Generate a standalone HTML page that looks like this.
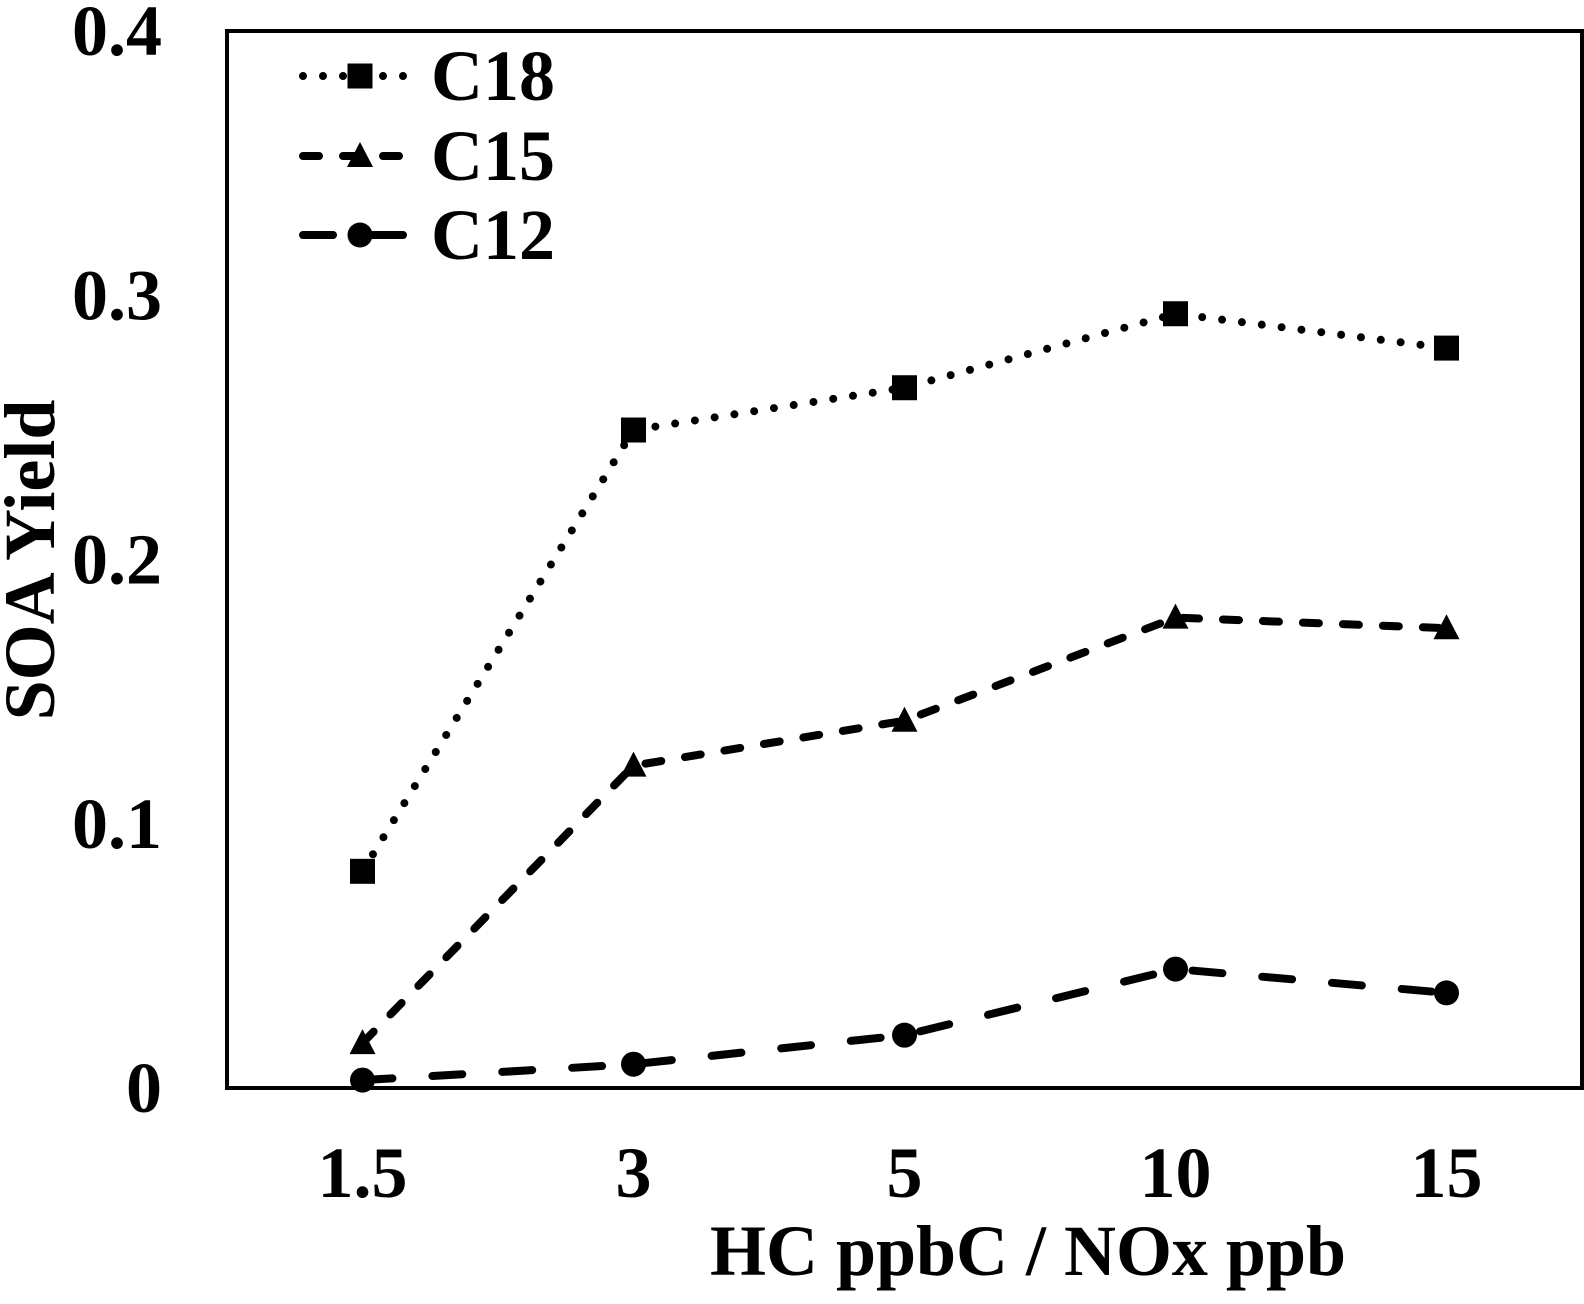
<!DOCTYPE html>
<html><head><meta charset="utf-8"><style>
html,body{margin:0;padding:0;background:#fff;}
svg{display:block;}
text{font-family:"Liberation Serif",serif;font-weight:bold;fill:#000;}
</style></head><body>
<svg id="chart" width="1584" height="1304" viewBox="0 0 1584 1304" xmlns="http://www.w3.org/2000/svg">
<rect x="227" y="31" width="1355" height="1057" fill="none" stroke="#000" stroke-width="4"/>
<g id="yticks"></g>
<g id="xticks"></g>
<g id="series"></g>
<text transform="translate(54,560) rotate(-90)" text-anchor="middle" font-size="72">SOA Yield</text>
<text x="1028" y="1275" text-anchor="middle" font-size="72" textLength="636" lengthAdjust="spacingAndGlyphs">HC ppbC / NOx ppb</text>
<g id="legend"></g>
</svg>
<script>
const categories = ["1.5","3","5","10","15"];
const c18 = [0.082, 0.249, 0.265, 0.293, 0.280];
const c15 = [0.017, 0.122, 0.139, 0.178, 0.174];
const c12 = [0.003, 0.009, 0.020, 0.045, 0.036];
const yTicks = [0, 0.1, 0.2, 0.3, 0.4];
const yTickLabels = ["0","0.1","0.2","0.3","0.4"];
const seriesNames = ["C18","C15","C12"];

const NS = "http://www.w3.org/2000/svg";
const L = 227, R = 1582, T = 31, B = 1088;
function xScale(i){ const bw = (R - L) / categories.length; return L + bw * (i + 0.5); }
function yScale(v){ return B - (v / 0.4) * (B - T); }
function mk(tag, attrs, parent){ const e = document.createElementNS(NS, tag); for (const k in attrs) e.setAttribute(k, attrs[k]); parent.appendChild(e); return e; }

const yg = document.getElementById('yticks');
yTicks.forEach((v, i) => {
  const t = mk('text', {x: 162, y: yScale(v) + 24, 'text-anchor': 'end', 'font-size': 72}, yg);
  
  
  t.textContent = yTickLabels[i];
});
const xg = document.getElementById('xticks');
categories.forEach((c, i) => {
  const t = mk('text', {x: xScale(i), y: 1197, 'text-anchor': 'middle', 'font-size': 72}, xg);
  
  
  t.textContent = c;
});

const styles = [
  {dash: "0 20", marker: "square"},
  {dash: "16 24", marker: "triangle"},
  {dash: "30 40", marker: "circle"}
];
function marker(type, x, y, parent){
  let m;
  if (type === "square") m = mk('rect', {x: x - 12.5, y: y - 12.5, width: 25, height: 25, fill: '#000'}, parent);
  else if (type === "triangle") m = mk('polygon', {points: `${x},${y-14} ${x+13},${y+11} ${x-13},${y+11}`, fill: '#000'}, parent);
  else m = mk('circle', {cx: x, cy: y, r: 12.5, fill: '#000'}, parent);
  
  
}
const sg = document.getElementById('series');
[c18, c15, c12].forEach((vals, si) => {
  const g = mk('g', {}, sg);
  
  
  const pts = vals.map((v, i) => xScale(i) + ',' + yScale(v)).join(' ');
  const pl = mk('polyline', {points: pts, fill: 'none', stroke: '#000', 'stroke-width': 8, 'stroke-linecap': 'round', 'stroke-dasharray': styles[si].dash}, g);
  
  
  vals.forEach((v, i) => marker(styles[si].marker, xScale(i), yScale(v), g));
});

const lg = document.getElementById('legend');
const legY = [76, 156, 235];
seriesNames.forEach((n, si) => {
  const g = mk('g', {}, lg);
  
  
  const y = legY[si];
  mk('line', {x1: 303, y1: y, x2: 405, y2: y, stroke: '#000', 'stroke-width': 8, 'stroke-linecap': 'round', 'stroke-dasharray': styles[si].dash}, g);
  marker(styles[si].marker, 360, y, g);
  const t = mk('text', {x: 431, y: y + 24, 'font-size': 72}, g);
  
  
  t.textContent = n;
});
</script>
</body></html>
